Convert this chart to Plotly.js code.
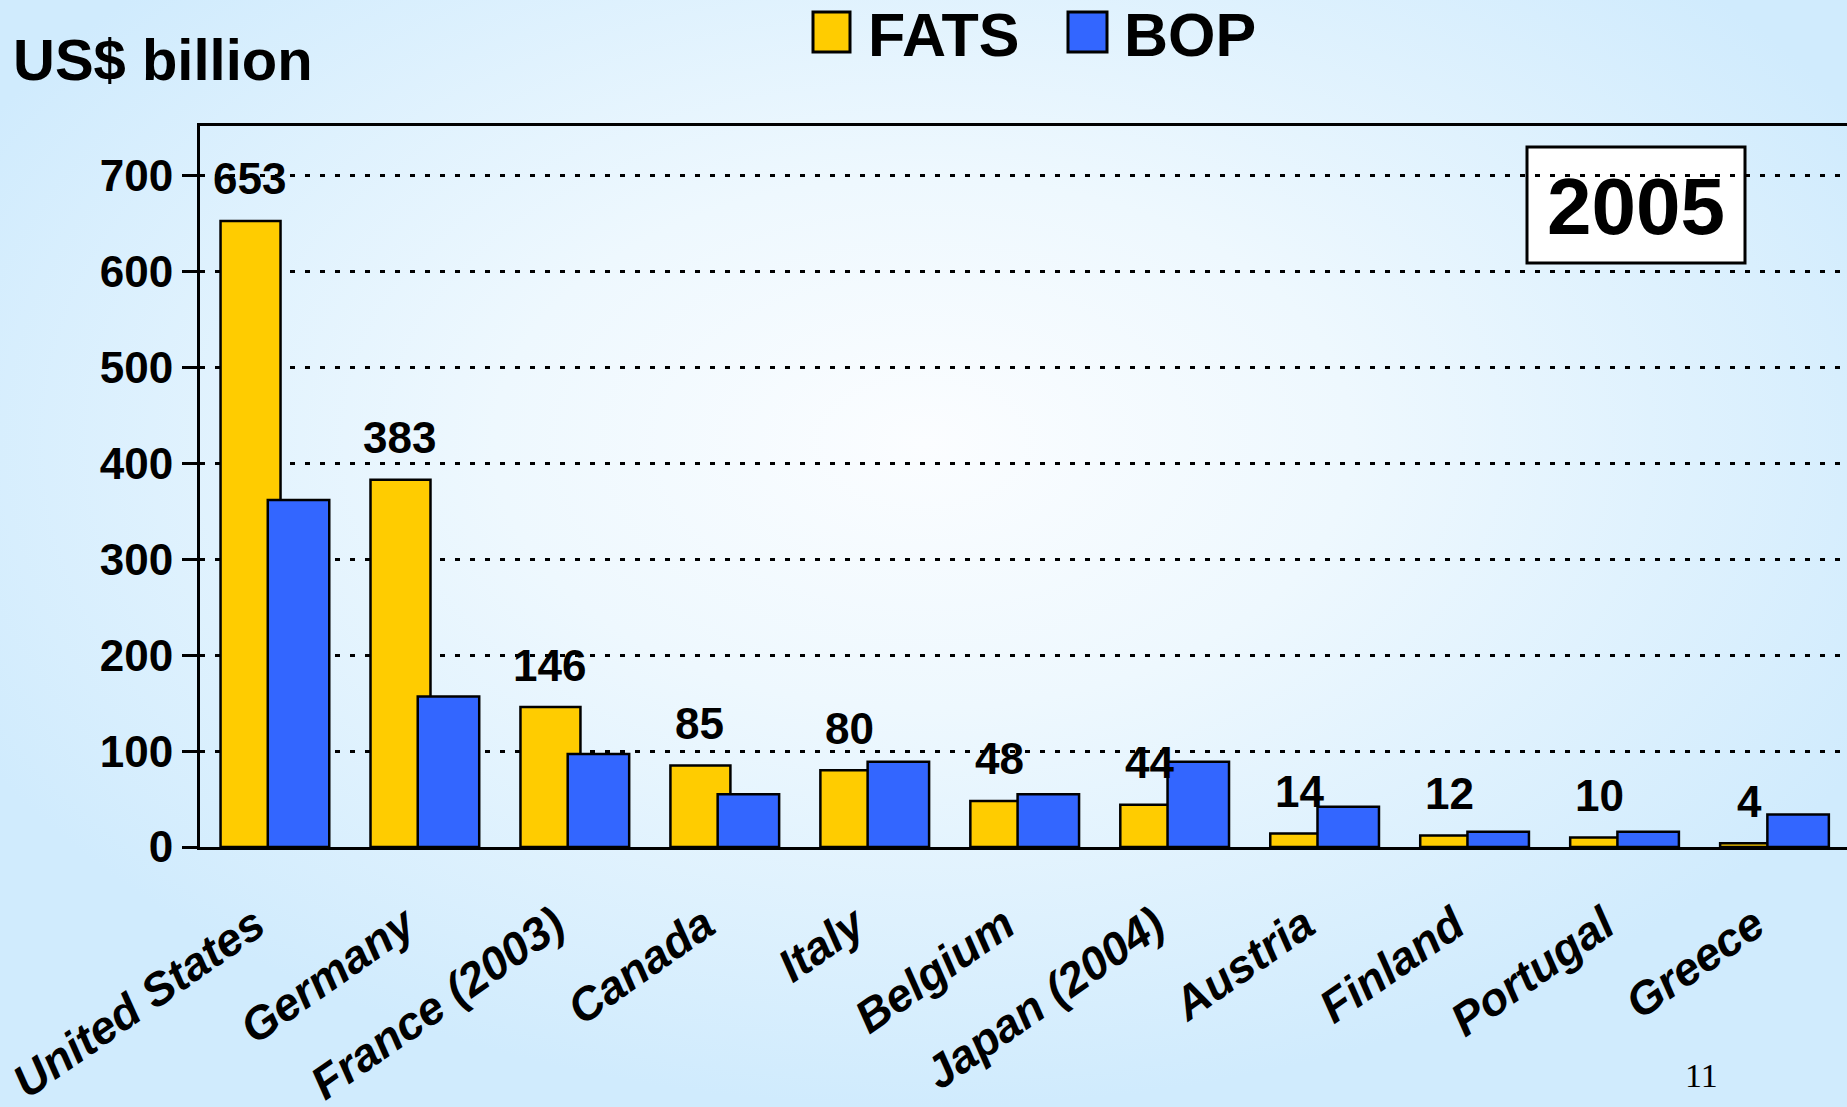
<!DOCTYPE html>
<html>
<head>
<meta charset="utf-8">
<script src="https://cdn.plot.ly/plotly-3.0.1.min.js"></script>
<style>
html,body{margin:0;padding:0;}
body{width:1847px;height:1107px;overflow:hidden;
background:radial-gradient(ellipse 58% 60% at 50% 40%, #fbfdff 0%, #eef8fe 40%, #d0ebfd 100%);}
#chart{width:1847px;height:1107px;}
</style>
</head>
<body>
<div id="chart"></div>
<script>
const countries = ["United States","Germany","France (2003)","Canada","Italy","Belgium","Japan (2004)","Austria","Finland","Portugal","Greece"];
const fats = [653,383,146,85,80,48,44,14,12,10,4];
const bop = [362,157,97,55,89,55,89,42,16,16,34];
const fatsLabels = ["653","383","146","85","80","48","44","14","12","10","4"];
const yTicks = [0,100,200,300,400,500,600,700];

const W = 1847, H = 1107, L = 200, T = 126, B = 260;
const PW = W - L, PH = H - T - B;
const px = x => (x - L) / PW;
const py = y => (H - B - y) / PH;

const font = "Liberation Sans, Arial, sans-serif";

const traces = [
  {type:"bar", name:"FATS", x:countries, y:fats, offset:-0.363, width:0.4,
   marker:{color:"#FFCC00", line:{color:"#000", width:2.5}}, hoverinfo:"x+y"},
  {type:"bar", name:"BOP", x:countries, y:bop, offset:-0.048, width:0.41,
   marker:{color:"#3366FF", line:{color:"#000", width:2.5}}, hoverinfo:"x+y"}
];

const annotations = countries.map((c,i)=>({
  x:c, y:fats[i], xref:"x", yref:"y", text:fatsLabels[i], showarrow:false,
  xshift:-25, yshift:42, yanchor:"middle",
  font:{family:font, size:44, color:"#000", weight:"bold"}
}));

annotations.push(
  {xref:"paper", yref:"paper", x:px(11), y:py(59), xanchor:"left", yanchor:"middle",
   text:"<b>US$ billion</b>", showarrow:false, font:{family:font, size:58, color:"#000"}},
  {xref:"paper", yref:"paper", x:px(866), y:py(35), xanchor:"left", yanchor:"middle",
   text:"<b>FATS</b>", showarrow:false, font:{family:font, size:61, color:"#000"}},
  {xref:"paper", yref:"paper", x:px(1122), y:py(35), xanchor:"left", yanchor:"middle",
   text:"<b>BOP</b>", showarrow:false, font:{family:font, size:61, color:"#000"}},
  {xref:"paper", yref:"paper", x:px(1636), y:py(207), xanchor:"center", yanchor:"middle",
   text:"<b>2005</b>", showarrow:false, font:{family:font, size:80, color:"#000"}},
  {xref:"paper", yref:"paper", x:px(1701), y:py(1075), xanchor:"center", yanchor:"middle",
   text:"11", showarrow:false, font:{family:"Liberation Serif, Times New Roman, serif", size:34, color:"#000"}}
);

const shapes = [
  {type:"rect", xref:"paper", yref:"paper", x0:px(813), x1:px(850), y0:py(52), y1:py(12),
   fillcolor:"#FFCC00", line:{color:"#000", width:3}},
  {type:"rect", xref:"paper", yref:"paper", x0:px(1068), x1:px(1107), y0:py(52), y1:py(12),
   fillcolor:"#3366FF", line:{color:"#000", width:3}},
  {type:"rect", xref:"paper", yref:"paper", x0:px(1527), x1:px(1745), y0:py(263), y1:py(147),
   fillcolor:"#FFFFFF", line:{color:"#000", width:3}, layer:"below"}
];

const layout = {
  width:W, height:H,
  margin:{l:L, r:0, t:T, b:B, pad:0},
  paper_bgcolor:"rgba(0,0,0,0)", plot_bgcolor:"rgba(0,0,0,0)",
  barmode:"overlay", showlegend:false,
  font:{family:font, color:"#000"},
  xaxis:{type:"category", range:[-0.5,10.483], showline:true, linecolor:"#000", linewidth:3,
    mirror:true, ticks:"", showgrid:false, zeroline:false, tickangle:-35,
    tickfont:{family:font, size:46, color:"#000", weight:"bold", style:"italic"},
    ticklabelstandoff:30, ticklabelshift:-20, fixedrange:true},
  yaxis:{range:[0,752], tickvals:yTicks, ticktext:yTicks.map(String), showline:true, linecolor:"#000", linewidth:3,
    ticks:"outside", ticklen:15, tickwidth:3, tickcolor:"#000",
    showgrid:true, gridcolor:"#000", gridwidth:3, griddash:"5px,10px", zeroline:false,
    tickfont:{family:font, size:44, color:"#000", weight:"bold"}, ticklabelstandoff:0, fixedrange:true},
  annotations:annotations, shapes:shapes
};

Plotly.newPlot("chart", traces, layout, {displayModeBar:false, staticPlot:true});
</script>
</body>
</html>
